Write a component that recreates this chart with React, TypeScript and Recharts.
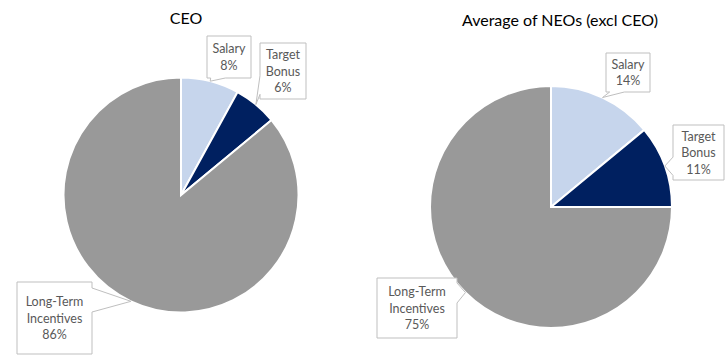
import React from 'react';
import { PieChart, Pie, Cell } from 'recharts';

const categories = ['Salary', 'Target Bonus', 'Long-Term Incentives'];
const ceoValues = [8, 6, 86];
const neoValues = [14, 11, 75];
const chartTitles = ['CEO', 'Average of NEOs (excl CEO)'];

const COLORS = ['#C6D5EC', '#002060', '#999999'];
const FONT = 'Lato, "Open Sans", sans-serif';

const ceoData = categories.map((name, i) => ({ name, value: ceoValues[i] }));
const neoData = categories.map((name, i) => ({ name, value: neoValues[i] }));

type Side = 'left' | 'right' | 'top' | 'bottom';
type Box = { dx: number; dy: number; w: number; h: number; side: Side };

// callout box placement relative to the pie centre (style only)
const ceoBoxes: Box[] = [
  { dx: 26, dy: -159, w: 44, h: 42, side: 'bottom' },
  { dx: 79, dy: -152, w: 46, h: 56, side: 'left' },
  { dx: -164, dy: 87, w: 75, h: 72, side: 'right' },
];
const neoBoxes: Box[] = [
  { dx: 55, dy: -154, w: 44, h: 39, side: 'bottom' },
  { dx: 122, dy: -82, w: 51, h: 55, side: 'left' },
  { dx: -174, dy: 71, w: 80, h: 60, side: 'right' },
];

function calloutPath(x: number, y: number, w: number, h: number, tx: number, ty: number, side: Side) {
  const left = x, right = x + w, top = y, bottom = y + h;
  const cxm = x + w / 2, cym = y + h / 2;
  const pts: [number, number][] = [];
  pts.push([left, top]);
  if (side === 'top') {
    const [a, b] = tx < cxm ? [left + w / 12, left + (5 * w) / 12] : [left + (7 * w) / 12, left + (11 * w) / 12];
    pts.push([a, top], [tx, ty], [b, top]);
  }
  pts.push([right, top]);
  if (side === 'right') {
    const [a, b] = ty < cym ? [top + h / 12, top + (5 * h) / 12] : [top + (7 * h) / 12, top + (11 * h) / 12];
    pts.push([right, a], [tx, ty], [right, b]);
  }
  pts.push([right, bottom]);
  if (side === 'bottom') {
    const [a, b] = tx < cxm ? [left + w / 12, left + (5 * w) / 12] : [left + (7 * w) / 12, left + (11 * w) / 12];
    pts.push([b, bottom], [tx, ty], [a, bottom]);
  }
  pts.push([left, bottom]);
  if (side === 'left') {
    const [a, b] = ty < cym ? [top + h / 12, top + (5 * h) / 12] : [top + (7 * h) / 12, top + (11 * h) / 12];
    pts.push([left, b], [tx, ty], [left, a]);
  }
  return 'M' + pts.map((p) => `${p[0]},${p[1]}`).join('L') + 'Z';
}

const makeLabel = (boxes: Box[]) => (props: any) => {
  const cx = Number(props.cx);
  const cy = Number(props.cy);
  const r = Number(props.outerRadius);
  const mid = Number(props.midAngle);
  const RAD = Math.PI / 180;
  const tx = cx + r * Math.cos(-mid * RAD);
  const ty = cy + r * Math.sin(-mid * RAD);
  const b = boxes[props.index];
  const bx = cx + b.dx;
  const by = cy + b.dy;
  const lines = [...String(props.name).split(' '), `${props.value}%`];
  const lh = 16.5;
  const startY = by + b.h / 2 - ((lines.length - 1) * lh) / 2;
  return (
    <g key={`lbl-${props.index}`}>
      <path d={calloutPath(bx, by, b.w, b.h, tx, ty, b.side)} fill="#ffffff" stroke="#BFBFBF" strokeWidth={1} />
      {lines.map((ln, i) => (
        <text
          key={i}
          x={bx + b.w / 2}
          y={startY + i * lh}
          textAnchor="middle"
          dominantBaseline="central"
          fontFamily={FONT}
          fontSize={12.5}
          fill="#595959"
        >
          {ln}
        </text>
      ))}
    </g>
  );
};

export default function App() {
  return (
    <div style={{ position: 'absolute', left: 0, top: 0, width: 725, height: 364, background: '#fff' }}>
      <PieChart width={725} height={364} margin={{ top: 0, right: 0, bottom: 0, left: 0 }}>
        <Pie
          data={ceoData}
          dataKey="value"
          nameKey="name"
          cx={181}
          cy={195}
          outerRadius={117.5}
          startAngle={90}
          endAngle={-270}
          stroke="#ffffff"
          strokeWidth={2}
          isAnimationActive={false}
          labelLine={false}
          label={makeLabel(ceoBoxes)}
        >
          {ceoData.map((d, i) => (
            <Cell key={d.name} fill={COLORS[i]} />
          ))}
        </Pie>
        <Pie
          data={neoData}
          dataKey="value"
          nameKey="name"
          cx={551}
          cy={207}
          outerRadius={121}
          startAngle={90}
          endAngle={-270}
          stroke="#ffffff"
          strokeWidth={2}
          isAnimationActive={false}
          labelLine={false}
          label={makeLabel(neoBoxes)}
        >
          {neoData.map((d, i) => (
            <Cell key={d.name} fill={COLORS[i]} />
          ))}
        </Pie>
      </PieChart>
      <div
        style={{
          position: 'absolute', left: 86, width: 200, top: 8, textAlign: 'center',
          fontFamily: FONT, fontSize: 16, lineHeight: '20px', color: '#000',
        }}
      >
        {chartTitles[0]}
      </div>
      <div
        style={{
          position: 'absolute', left: 410, width: 300, top: 10, textAlign: 'center',
          fontFamily: FONT, fontSize: 16, lineHeight: '20px', color: '#000',
        }}
      >
        {chartTitles[1]}
      </div>
    </div>
  );
}
